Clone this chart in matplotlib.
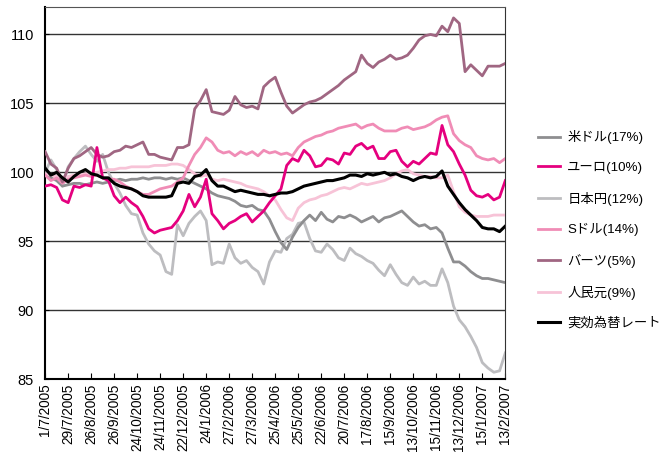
import numpy as np
import matplotlib
matplotlib.use("Agg")
import matplotlib.pyplot as plt

plt.rcParams['font.family'] = ['Liberation Sans', 'Noto Sans CJK JP']

# x tick labels, one every 20 business days
tick_labels = ['1/7/2005', '29/7/2005', '26/8/2005', '26/9/2005', '24/10/2005',
               '24/11/2005', '22/12/2005', '24/1/2006', '27/2/2006', '27/3/2006',
               '25/4/2006', '25/5/2006', '22/6/2006', '20/7/2006', '17/8/2006',
               '15/9/2006', '13/10/2006', '15/11/2006', '13/12/2006', '15/1/2007',
               '13/2/2007']

usd = [100.0, 99.6, 99.4, 99.0, 99.1, 99.2, 99.2, 99.1, 99.2, 99.3,
       99.2, 99.3, 99.4, 99.5, 99.4, 99.5, 99.5, 99.6, 99.5, 99.6,
       99.6, 99.5, 99.6, 99.5, 99.6, 99.4, 99.2, 99.0, 98.8, 98.5,
       98.3, 98.2, 98.1, 97.9, 97.6, 97.5, 97.6, 97.3, 97.2, 96.6,
       95.7, 94.9, 94.4, 95.3, 96.0, 96.5, 96.9, 96.5, 97.1, 96.6,
       96.4, 96.8, 96.7, 96.9, 96.7, 96.4, 96.6, 96.8, 96.4, 96.7,
       96.8, 97.0, 97.2, 96.8, 96.4, 96.1, 96.2, 95.9, 96.0, 95.6,
       94.5, 93.5, 93.5, 93.2, 92.8, 92.5, 92.3, 92.3, 92.2, 92.1, 92.0]

euro = [99.0, 99.1, 98.9, 98.0, 97.8, 99.0, 98.9, 99.1, 99.0, 101.8,
        99.6, 99.4, 98.3, 97.8, 98.2, 97.8, 97.5, 96.8, 95.9, 95.6,
        95.8, 95.9, 96.0, 96.5, 97.2, 98.4, 97.5, 98.2, 99.5, 97.0,
        96.5, 95.9, 96.3, 96.5, 96.8, 97.0, 96.4, 96.8, 97.2, 97.8,
        98.3, 98.8, 100.5, 101.0, 100.8, 101.6, 101.2, 100.4, 100.5, 101.0,
        100.9, 100.6, 101.4, 101.3, 101.9, 102.1, 101.7, 101.9, 101.0, 101.0,
        101.5, 101.6, 100.8, 100.4, 100.8, 100.6, 101.0, 101.4, 101.3, 103.4,
        102.0, 101.5, 100.6, 99.8, 98.7, 98.3, 98.2, 98.4, 98.0, 98.2, 99.4]

yen = [100.0, 100.9, 100.2, 99.0, 100.4, 101.0, 101.5, 101.9, 101.3, 100.8,
       101.3, 100.0, 99.2, 98.5, 97.6, 97.0, 96.9, 95.6, 94.8, 94.3,
       94.0, 92.8, 92.6, 96.2, 95.4, 96.3, 96.8, 97.2, 96.5, 93.3,
       93.5, 93.4, 94.8, 93.8, 93.4, 93.6, 93.1, 92.8, 91.9, 93.5,
       94.3, 94.2, 95.2, 95.5, 96.3, 96.4, 95.2, 94.3, 94.2, 94.8,
       94.4, 93.8, 93.6, 94.5, 94.1, 93.9, 93.6, 93.4, 92.9, 92.5,
       93.3, 92.6, 92.0, 91.8, 92.4, 91.9, 92.1, 91.8, 91.8, 93.0,
       92.0, 90.3, 89.3, 88.8, 88.1, 87.3, 86.2, 85.8, 85.5, 85.6, 86.9]

sgd = [99.8, 99.4, 99.6, 99.2, 99.5, 99.6, 99.7, 99.8, 99.7, 99.8,
       99.6, 99.5, 99.5, 99.3, 99.0, 98.8, 98.6, 98.4, 98.4, 98.6,
       98.8, 98.9, 99.0, 99.3, 99.6, 100.5, 101.3, 101.8, 102.5, 102.2,
       101.6, 101.4, 101.5, 101.2, 101.5, 101.3, 101.5, 101.2, 101.6, 101.4,
       101.5, 101.3, 101.4, 101.2, 101.8, 102.2, 102.4, 102.6, 102.7, 102.9,
       103.0, 103.2, 103.3, 103.4, 103.5, 103.2, 103.4, 103.5, 103.2, 103.0,
       103.0, 103.0, 103.2, 103.3, 103.1, 103.2, 103.3, 103.5, 103.8, 104.0,
       104.1, 102.8, 102.3, 102.0, 101.8, 101.2, 101.0, 100.9, 101.0, 100.7, 101.0]

baht = [101.5, 100.6, 100.3, 99.3, 100.3, 101.0, 101.2, 101.5, 101.8, 101.3,
        101.1, 101.2, 101.5, 101.6, 101.9, 101.8, 102.0, 102.2, 101.3, 101.3,
        101.1, 101.0, 100.9, 101.8, 101.8, 102.0, 104.6, 105.2, 106.0, 104.4,
        104.3, 104.2, 104.5, 105.5, 104.9, 104.7, 104.8, 104.6, 106.2, 106.6,
        106.9, 105.8, 104.8, 104.3, 104.6, 104.9, 105.1, 105.2, 105.4, 105.7,
        106.0, 106.3, 106.7, 107.0, 107.3, 108.5, 107.9, 107.6, 108.0, 108.2,
        108.5, 108.2, 108.3, 108.5, 109.0, 109.6, 109.9, 110.0, 109.9, 110.6,
        110.2, 111.2, 110.8, 107.3, 107.8, 107.4, 107.0, 107.7, 107.7, 107.7, 107.9]

yuan = [99.9, 99.8, 99.7, 99.6, 99.7, 99.8, 99.8, 99.9, 100.0, 100.0,
        100.1, 100.2, 100.2, 100.3, 100.3, 100.4, 100.4, 100.4, 100.4, 100.5,
        100.5, 100.5, 100.6, 100.6, 100.5, 100.2, 99.9, 99.7, 99.8, 99.5,
        99.4, 99.5, 99.4, 99.3, 99.2, 99.0, 98.9, 98.8, 98.6, 98.3,
        98.0, 97.3, 96.7, 96.5, 97.4, 97.8, 98.0, 98.1, 98.3, 98.4,
        98.6, 98.8, 98.9, 98.8, 99.0, 99.2, 99.1, 99.2, 99.3, 99.4,
        99.6, 99.9, 100.1, 100.2, 99.9, 99.8, 99.7, 99.7, 99.6, 99.6,
        99.8, 98.6, 97.5, 97.1, 96.9, 96.8, 96.8, 96.8, 96.9, 96.9, 96.9]

neer = [100.3, 99.8, 100.0, 99.6, 99.3, 99.7, 100.0, 100.2, 99.9, 99.8,
        99.6, 99.6, 99.2, 99.0, 98.9, 98.8, 98.6, 98.3, 98.2, 98.2,
        98.2, 98.2, 98.3, 99.2, 99.3, 99.2, 99.7, 99.8, 100.2, 99.4,
        99.0, 99.0, 98.8, 98.6, 98.7, 98.6, 98.5, 98.4, 98.4, 98.3,
        98.4, 98.5, 98.5, 98.6, 98.8, 99.0, 99.1, 99.2, 99.3, 99.4,
        99.4, 99.5, 99.6, 99.8, 99.8, 99.7, 99.9, 99.8, 99.9, 100.0,
        99.8, 99.9, 99.7, 99.6, 99.4, 99.6, 99.7, 99.6, 99.7, 100.1,
        99.0, 98.4, 97.8, 97.3, 96.9, 96.5, 96.0, 95.9, 95.9, 95.7, 96.1]

series = [
    ('米ドル(17%)', usd, '#8e8e90', 2.0, 3),
    ('ユーロ(10%)', euro, '#e5007f', 2.0, 6),
    ('日本円(12%)', yen, '#bdbdc0', 2.0, 2),
    ('Sドル(14%)', sgd, '#f08cb6', 2.0, 4),
    ('バーツ(5%)', baht, '#a06682', 2.0, 5),
    ('人民元(9%)', yuan, '#f7c3d7', 2.0, 3.5),
    ('実効為替レート', neer, '#000000', 2.2, 7),
]

fig = plt.figure(figsize=(6.64, 4.59), dpi=100)
ax = fig.add_axes([0.068, 0.174, 0.693, 0.811])

x = np.arange(len(usd)) * 5
for label, vals, color, lw, z in series:
    ax.plot(x, vals, color=color, lw=lw, label=label, zorder=z)

ax.set_xlim(0, 400)
ax.set_ylim(85, 112)
ax.set_yticks([85, 90, 95, 100, 105, 110])
ax.set_xticks(np.arange(0, 401, 20))
ax.set_xticklabels(tick_labels, rotation=90, fontsize=9.8)
ax.tick_params(axis='y', labelsize=10.5, direction='in', length=3, pad=8)
ax.tick_params(axis='x', direction='in', length=4, pad=3)
ax.yaxis.grid(True, color='#333333', lw=1)
ax.set_axisbelow(True)
for s in ['left', 'bottom']:
    ax.spines[s].set_linewidth(1.5)
    ax.spines[s].set_color('#000000')
ax.spines['top'].set_color('#555555')
ax.spines['right'].set_color('#333333')

fig.legend(loc='upper left', bbox_to_anchor=(0.802, 0.728), frameon=False,
           fontsize=9.6, handlelength=1.65, handletextpad=0.55, labelspacing=1.32,
           borderaxespad=0)

fig.savefig('out.png', dpi=100)
